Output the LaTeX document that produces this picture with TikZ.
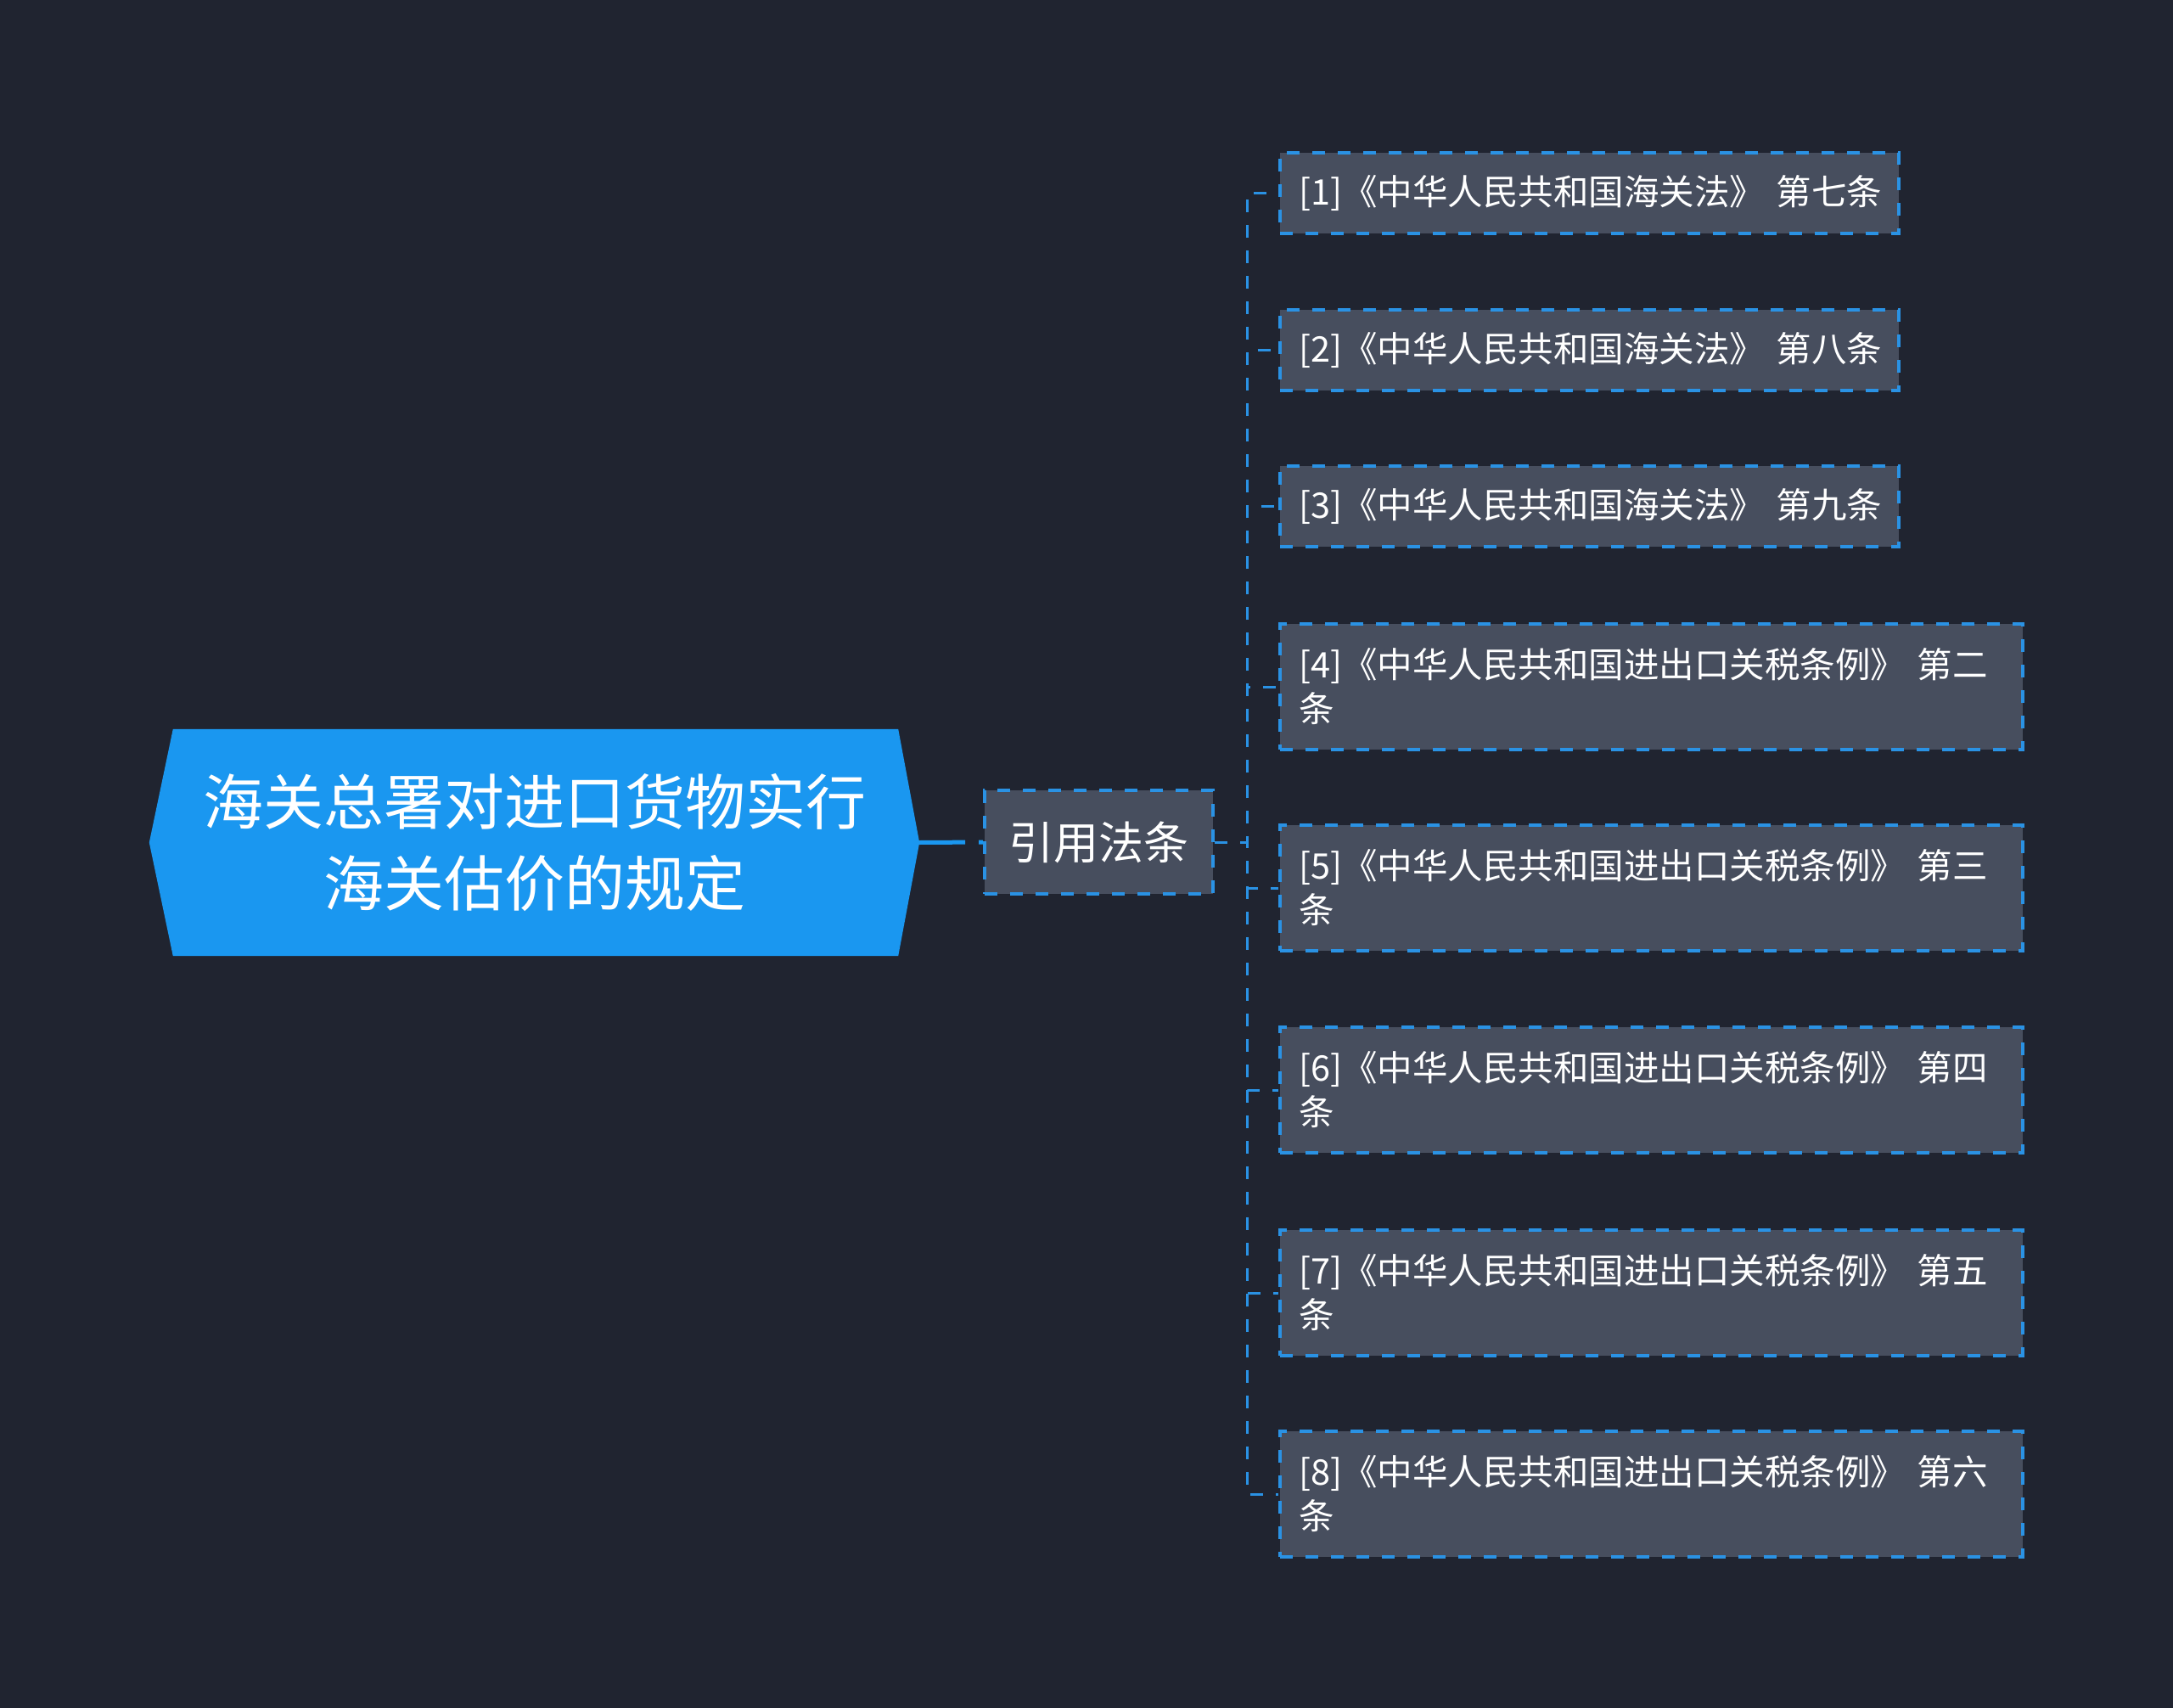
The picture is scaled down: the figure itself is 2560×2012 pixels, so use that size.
\documentclass[tikz,border=0pt]{standalone}
\usepackage{fontspec}
\setmainfont{Noto Sans CJK SC}
\usetikzlibrary{backgrounds}
\definecolor{bgdark}{RGB}{32,36,48}
\definecolor{rootblue}{RGB}{26,151,240}
\definecolor{boxgray}{RGB}{71,78,94}
\definecolor{lineblue}{RGB}{42,146,228}
\begin{document}
\begin{tikzpicture}[x=1pt,y=-1pt,
  rootnode/.style={minimum width=907pt,minimum height=267pt,inner sep=0pt,align=center,text=white,font=\fontsize{71}{96}\selectfont},
  midnode/.style={draw=lineblue,fill=boxgray,line width=4pt,dash pattern=on 15pt off 15pt,minimum width=269pt,minimum height=122pt,inner sep=0pt,text=white,font=\fontsize{53}{60}\selectfont},
  leaf/.style={draw=lineblue,fill=boxgray,line width=4pt,dash pattern=on 15pt off 15pt,anchor=north west,inner xsep=22pt,inner ysep=0pt,align=left,text=white,font=\fontsize{41.5}{52}\selectfont},
  link/.style={draw=lineblue,line width=3pt,dash pattern=on 15pt off 15pt},
  rootlink/.style={draw=rootblue,line width=5pt,dash pattern=on 54pt off 16pt}]
\node[rootnode] (root) at (629.5,992.5) {海关总署对进口货物实行\\海关估价的规定};
\node[midnode] (mid) at (1294.5,992) {引用法条};
\coordinate (fork) at ([xshift=38pt]mid.east);
% leaves: number/top/height/width/text width/text
\foreach \i/\top/\hgt/\wdt/\twd/\txt in {
  1/178/95/729/685/{[1]《中华人民共和国海关法》~第七条},
  2/363/95/729/685/{[2]《中华人民共和国海关法》~第八条},
  3/547/95/729/685/{[3]《中华人民共和国海关法》~第九条},
  4/733/148/875/831/{[4]《中华人民共和国进出口关税条例》 第二\\条},
  5/970/148/875/831/{[5]《中华人民共和国进出口关税条例》 第三\\条},
  6/1208/148/875/831/{[6]《中华人民共和国进出口关税条例》 第四\\条},
  7/1447/148/875/831/{[7]《中华人民共和国进出口关税条例》 第五\\条},
  8/1684/148/875/831/{[8]《中华人民共和国进出口关税条例》 第六\\条}}{
  \node[leaf,minimum width=\wdt pt,minimum height=\hgt pt,text width=\twd pt] (leaf\i) at (1506,\top) {\txt};
  \draw[link] (mid.east) -- (fork) |- (leaf\i.west);
}
\draw[rootlink] (root.east) -- (mid.west);
\begin{scope}[on background layer]
\fill[bgdark] (0,0) rectangle (2560,2012);
\fill[rootblue] (root.west) -- ([xshift=28pt]root.north west) -- ([xshift=-25pt]root.north east) -- (root.east)
  -- ([xshift=-25pt]root.south east) -- ([xshift=28pt]root.south west) -- cycle;
\end{scope}
\end{tikzpicture}
\end{document}
